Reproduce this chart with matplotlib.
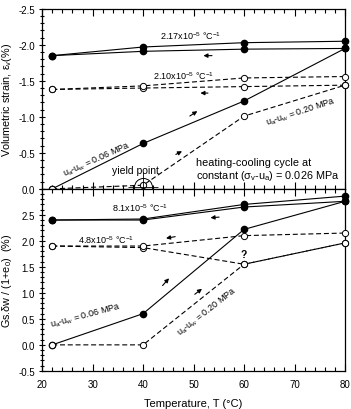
import matplotlib
matplotlib.use("Agg")
import matplotlib.pyplot as plt
from matplotlib.ticker import MultipleLocator

plt.rcParams['font.family'] = ['Liberation Sans', 'DejaVu Sans']
plt.rcParams['mathtext.fontset'] = 'custom'
plt.rcParams['mathtext.rm'] = 'Liberation Sans'
plt.rcParams['mathtext.it'] = 'Liberation Sans'

# temperatures (deg C)
temps = [22, 40, 60, 80]

# volumetric strain (%), suction 0.06 MPa
ev_heat_006 = [0.0, -0.63, -1.22, -1.95]
ev_cool_006 = [-1.85, -1.91, -1.94, -1.95]
ev_reheat_006 = [-1.85, -1.97, -2.03, -2.05]
# volumetric strain (%), suction 0.20 MPa
ev_heat_020 = [0.0, -0.05, -1.01, -1.44]
ev_cool_020 = [-1.38, -1.40, -1.42, -1.44]
ev_reheat_020 = [-1.38, -1.43, -1.54, -1.56]

# water content change Gs.dw/(1+e0) (%), suction 0.06 MPa
w_heat_006 = [0.0, 0.60, 2.22, 2.76]
w_cool_006 = [2.40, 2.40, 2.65, 2.76]
w_reheat_006 = [2.40, 2.42, 2.70, 2.86]
# suction 0.20 MPa
w_heat_020 = [0.0, 0.0, 1.55, 1.96]
w_cool_020 = [1.90, 1.87, 1.55, 1.96]
w_reheat_020 = [1.90, 1.90, 2.10, 2.15]

fig = plt.figure(figsize=(3.51, 4.10), dpi=100)
ax1 = fig.add_axes([0.12, 0.537, 0.863, 0.439])
ax2 = fig.add_axes([0.12, 0.093, 0.863, 0.444])

solid = dict(color='black', lw=0.8, marker='o', ms=4.5, mfc='black', mec='black')
dash = dict(color='black', lw=0.8, ls=(0, (4.5, 2.5)), marker='o', ms=4.5, mfc='white', mec='black', mew=0.7)

for ys in (ev_heat_006, ev_cool_006, ev_reheat_006):
    ax1.plot(temps, ys, clip_on=False, zorder=3, **solid)
for ys in (ev_heat_020, ev_cool_020, ev_reheat_020):
    ax1.plot(temps, ys, clip_on=False, zorder=3, **dash)

for ys in (w_heat_006, w_cool_006, w_reheat_006):
    ax2.plot(temps, ys, clip_on=False, zorder=3, **solid)
for ys in (w_heat_020, w_cool_020, w_reheat_020):
    ax2.plot(temps, ys, clip_on=False, zorder=3, **dash)

for ax in (ax1, ax2):
    ax.set_xlim(20, 80)
    ax.xaxis.set_major_locator(MultipleLocator(10))
    ax.xaxis.set_minor_locator(MultipleLocator(2))
    ax.yaxis.set_major_locator(MultipleLocator(0.5))
    ax.yaxis.set_minor_locator(MultipleLocator(0.1))
    ax.tick_params(which='both', direction='in', top=True, labelsize=7, width=0.8)
    ax.tick_params(axis='y', which='both', direction='inout', right=False, pad=2.5)
    ax.tick_params(axis='x', which='major', pad=6)
    ax.tick_params(which='major', length=5)
    ax.tick_params(which='minor', length=3)
    for s in ax.spines.values():
        s.set_linewidth(0.9)

ax1.set_ylim(0.0, -2.5)
ax1.tick_params(axis='x', labelbottom=False)
ax1.yaxis.set_major_formatter(plt.FuncFormatter(lambda v, p: f'{v:.1f}'))
ax1.set_ylabel(r'Volumetric strain, $\varepsilon_v$(%)', fontsize=7.8)

ax2.set_ylim(-0.5, 3.0)
ax2.yaxis.set_major_formatter(plt.FuncFormatter(lambda v, p: f'{v:.1f}' if v < 2.9 else ''))
ax2.set_ylabel(r'Gs.$\delta$w / (1+e$_0$)  (%)', fontsize=7.8)
ax2.set_xlabel('Temperature, T (°C)', fontsize=8, labelpad=6)
ax1.yaxis.set_label_coords(-0.092, 0.5)
ax2.yaxis.set_label_coords(-0.092, 0.5)

# annotations top panel
fs = 6.5
ax1.text(49.4, -2.14, r'2.17x10$^{-5}$ °C$^{-1}$', fontsize=fs, ha='center', va='center')
ax1.text(48.0, -1.58, r'2.10x10$^{-5}$ °C$^{-1}$', fontsize=fs, ha='center', va='center')
ax1.text(30.9, -0.42, r'u$_a$-u$_w$ = 0.06 MPa', fontsize=fs, ha='center', va='center', rotation=24)
ax1.text(71.3, -1.08, r'u$_a$-u$_w$ = 0.20 MPa', fontsize=fs, ha='center', va='center', rotation=18)
ax1.text(38.5, -0.26, 'yield point', fontsize=7.5, ha='center', va='center')
ax1.text(50.4, -0.375, 'heating-cooling cycle at', fontsize=7.8, ha='left', va='center')
ax1.text(50.4, -0.19, r'constant ($\sigma_v$-u$_a$) = 0.026 MPa', fontsize=7.8, ha='left', va='center')
ax1.plot([40], [-0.02], marker='o', ms=13, mfc='none', mec='black', mew=0.7, clip_on=False, zorder=4)
ax1.plot([40], [-0.02], marker='+', ms=22, mec='black', mew=0.6, clip_on=False, zorder=4)

arrow = dict(arrowstyle='-|>', color='black', lw=0.8, mutation_scale=6)
ax1.annotate('', xy=(51.4, -1.85), xytext=(54.2, -1.85), arrowprops=arrow)
ax1.annotate('', xy=(50.8, -1.33), xytext=(53.4, -1.33), arrowprops=arrow)
ax1.annotate('', xy=(51.2, -1.10), xytext=(48.8, -0.99), arrowprops=arrow)
ax1.annotate('', xy=(48.2, -0.54), xytext=(46.0, -0.46), arrowprops=arrow)

# annotations bottom panel
ax2.text(39.5, 2.65, r'8.1x10$^{-5}$ °C$^{-1}$', fontsize=fs, ha='center', va='center')
ax2.text(32.7, 2.04, r'4.8x10$^{-5}$ °C$^{-1}$', fontsize=fs, ha='center', va='center')
ax2.text(28.7, 0.58, r'u$_a$-u$_w$ = 0.06 MPa', fontsize=fs, ha='center', va='center', rotation=15)
ax2.text(52.6, 0.65, r'u$_a$-u$_w$ = 0.20 MPa', fontsize=fs, ha='center', va='center', rotation=38)
ax2.text(60, 1.75, '?', fontsize=7.5, ha='center', va='center', fontweight='bold')
ax2.annotate('', xy=(52.8, 2.44), xytext=(55.6, 2.46), arrowprops=arrow)
ax2.annotate('', xy=(44.0, 2.04), xytext=(46.9, 2.09), arrowprops=arrow)
ax2.annotate('', xy=(45.5, 1.32), xytext=(43.5, 1.10), arrowprops=arrow)
ax2.annotate('', xy=(52.1, 1.11), xytext=(49.8, 0.94), arrowprops=arrow)

fig.savefig('out.png', dpi=100)
